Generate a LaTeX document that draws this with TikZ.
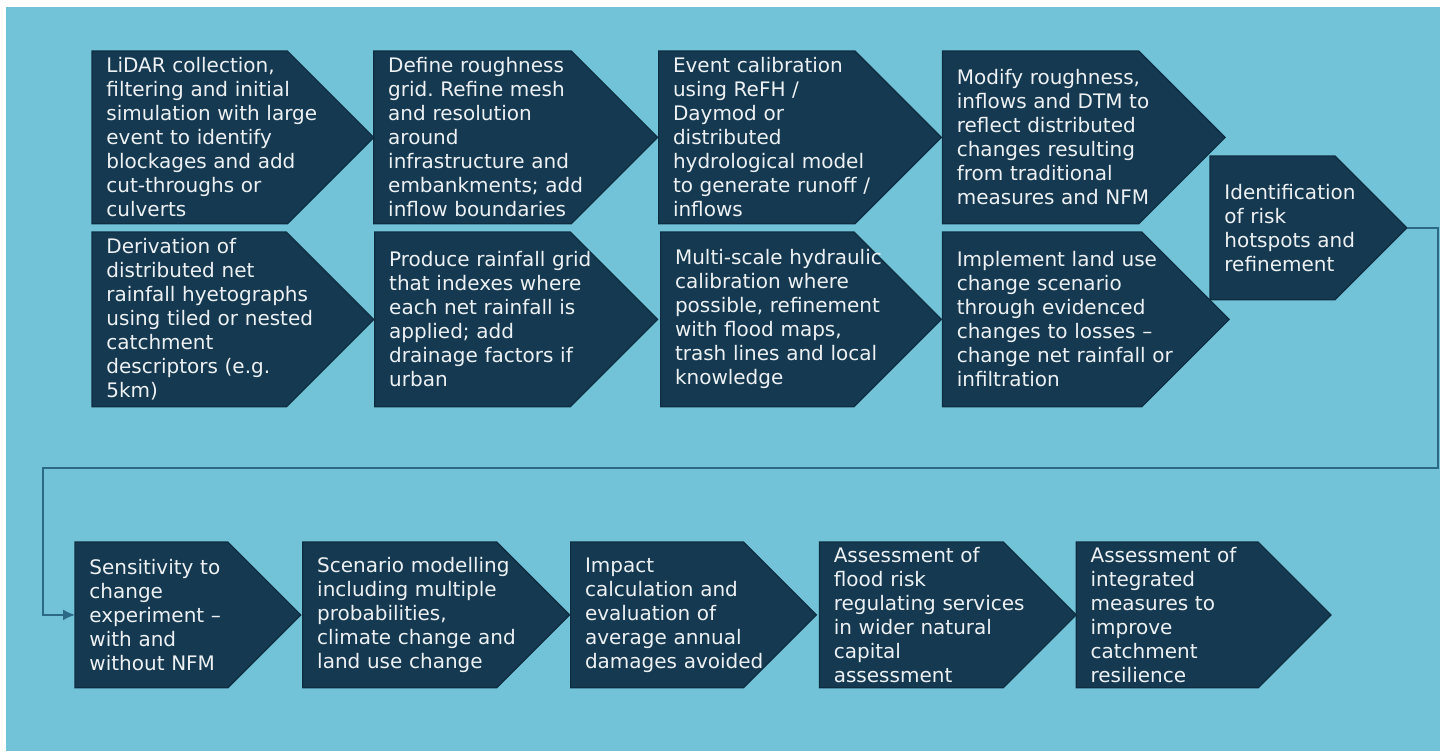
\documentclass[tikz,border=0pt]{standalone}
\usepackage{fontspec}
\setmainfont{DejaVu Sans}
\usetikzlibrary{positioning,backgrounds,calc,arrows.meta}
\frenchspacing

\definecolor{panelblue}{HTML}{72C3D7}
\definecolor{stepnavy}{HTML}{143950}
\definecolor{stepedge}{HTML}{0F2D41}
\definecolor{steptext}{HTML}{EEF1F3}
\definecolor{loopline}{HTML}{2D6987}

\tikzset{
  stepbox/.style={rectangle, anchor=north west, inner xsep=7pt, inner ysep=0pt,
    align=left, text=steptext, font=\fontsize{10}{12}\selectfont},
  wd/.style={minimum width=#1*0.5pt, text width=#1*0.5pt-14pt},
  ht/.style={minimum height=#1*0.5pt},
  stepshape/.style={fill=stepnavy, draw=stepedge, line width=0.6pt},
}

\begin{document}
\begin{tikzpicture}[x=0.5pt,y=-0.5pt]
  \useasboundingbox (0,0) rectangle (1440,751);

  % modelling steps, top row
  \node[stepbox,wd=281,ht=172] (lidar) at (92,51) {LiDAR collection,\\filtering and initial\\simulation with large\\event to identify\\blockages and add\\cut-throughs or\\culverts};
  \node[stepbox,wd=283,ht=172,right=0pt of lidar] (rough) {Define roughness\\grid. Refine mesh\\and resolution\\around\\infrastructure and\\embankments; add\\inflow boundaries};
  \node[stepbox,wd=282,ht=172,right=0.5pt of rough] (event) {Event calibration\\using ReFH /\\Daymod or\\distributed\\hydrological model\\to generate runoff /\\inflows};
  \node[stepbox,wd=282,ht=172,right=0.5pt of event] (modify) {Modify roughness,\\inflows and DTM to\\reflect distributed\\changes resulting\\from traditional\\measures and NFM};
  \node[stepbox,wd=196,ht=143] (ident) at (1210,156) {Identification\\of risk\\hotspots and\\refinement};

  % second row
  \node[stepbox,wd=281,ht=174] (deriv) at (92,232) {Derivation of\\distributed net\\rainfall hyetographs\\using tiled or nested\\catchment\\descriptors (e.g.\\5km)};
  \node[stepbox,wd=282,ht=174,right=0.5pt of deriv] (grid) {Produce rainfall grid\\that indexes where\\each net rainfall is\\applied; add\\drainage factors if\\urban};
  \node[stepbox,wd=280,ht=174,right=1.5pt of grid] (multi) {Multi-scale hydraulic\\calibration where\\possible, refinement\\with flood maps,\\trash lines and local\\knowledge};
  \node[stepbox,wd=286,ht=174,right=0.5pt of multi] (landuse) {Implement land use\\change scenario\\through evidenced\\changes to losses –\\change net rainfall or\\infiltration};

  % assessment row
  \node[stepbox,wd=225,ht=145] (sens) at (75,542) {Sensitivity to\\change\\experiment –\\with and\\without NFM};
  \node[stepbox,wd=266,ht=145,right=1pt of sens] (scen) {Scenario modelling\\including multiple\\probabilities,\\climate change and\\land use change};
  \node[stepbox,wd=245,ht=145,right=0.5pt of scen] (impact) {Impact\\calculation and\\evaluation of\\average annual\\damages avoided};
  \node[stepbox,wd=256,ht=145,right=1.5pt of impact] (services) {Assessment of\\flood risk\\regulating services\\in wider natural\\capital\\assessment};
  \node[stepbox,wd=254,ht=145,right=0pt of services] (integ) {Assessment of\\integrated\\measures to\\improve\\catchment\\resilience};

  \begin{scope}[on background layer]
    \fill[white] (0,0) rectangle (1440,751);
    \fill[panelblue] (6,7) rectangle (1440,751);
    % arrow shapes behind the text
    \foreach \s in {lidar,rough,event,modify,ident,deriv,grid,multi,landuse,sens,scen,impact,services,integ}
      \filldraw[stepshape] let \p1=($(\s.north)-(\s.south)$) in
        (\s.north west) -- ([xshift=-0.5*\y1]\s.north east) -- (\s.east)
        -- ([xshift=-0.5*\y1]\s.south east) -- (\s.south west) -- cycle;
  \end{scope}

  % loop back to the lower row
  \coordinate (dropR) at (1438,468);
  \coordinate (dropL) at (43,468);
  \draw[loopline, line width=0.8pt, -{Latex[length=6pt,width=5.5pt]}]
    (ident.east) -| (dropR) -- (dropL) |- (sens.west);
\end{tikzpicture}
\end{document}
